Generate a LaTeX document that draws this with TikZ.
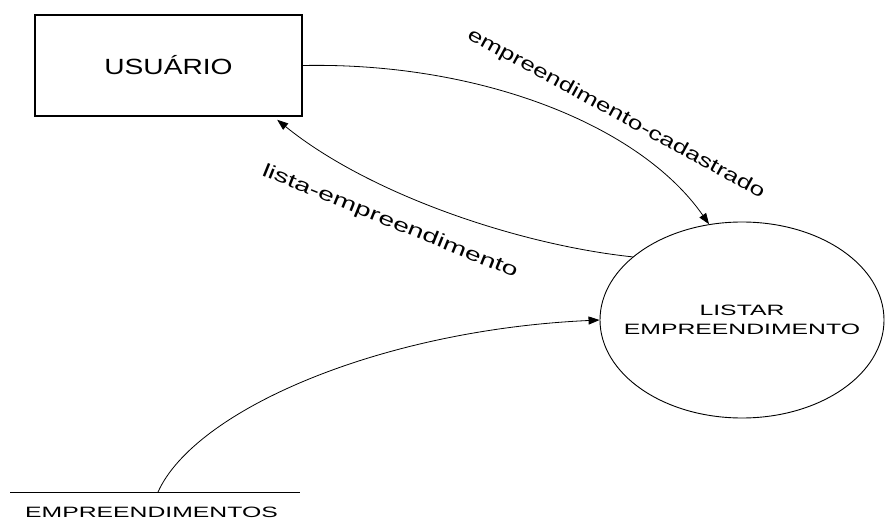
\documentclass[tikz,border=0pt]{standalone}
\usepackage{fontspec}
\usepackage{graphicx}
\setmainfont{Liberation Sans}
\usetikzlibrary{arrows.meta,shapes.geometric}

\tikzset{
  entidade/.style={draw, line width=1.2pt, minimum width=267pt, minimum height=101pt, inner sep=0pt},
  processo/.style={draw, ellipse, line width=0.9pt, minimum width=284pt, minimum height=196pt, inner sep=0pt},
  fluxo/.style={draw, line width=0.8pt, -{Triangle[length=11pt,width=8pt]}},
  rotulo/.style={font=\fontsize{15}{19}\selectfont, align=center, inner sep=0pt},
  legenda/.style={font=\fontsize{19}{22}\selectfont, inner sep=0pt},
}

\begin{document}
\begin{tikzpicture}[x=1pt,y=-1pt]
\useasboundingbox (0,0) rectangle (885,526);
% entidade externa
\node[entidade, font=\fontsize{22}{26}\selectfont] (usuario) at (168.5,65.5) {\scalebox{1.28}[1]{USUÁRIO}};
% processo
\node[processo] (listar) at (742,320) {};
\node[rotulo] (listar-txt) at (listar.center) {\scalebox{1.65}[1]{LISTAR}\\\scalebox{1.65}[1]{EMPREENDIMENTO}};
% deposito de dados
\coordinate (dep-a) at (10,492);
\coordinate (dep-b) at (300,492);
\coordinate (dep-c) at (158,492);
\draw[line width=0.9pt] (dep-a) -- (dep-b);
\node[rotulo] (deposito) at (151.5,512) {\scalebox{1.65}[1]{EMPREENDIMENTOS}};
% fluxos
\draw[fluxo] (usuario.east) .. controls (480,62) and (640,125) .. (listar.109);
\draw[fluxo, shorten >=5pt] (listar.150) .. controls (520,245) and (370,195) .. (usuario.-26);
\draw[fluxo] (dep-c) .. controls (195,410) and (380,330) .. (listar.west);
% rotulos dos fluxos
\node[legenda, rotate=-28.5] (lbl-cadastrado) at (616,114) {\scalebox{1.38}[1]{empreendimento-cadastrado}};
\node[legenda, rotate=-22] (lbl-lista) at (390,222) {\scalebox{1.5}[1]{lista-empreendimento}};
\end{tikzpicture}
\end{document}
